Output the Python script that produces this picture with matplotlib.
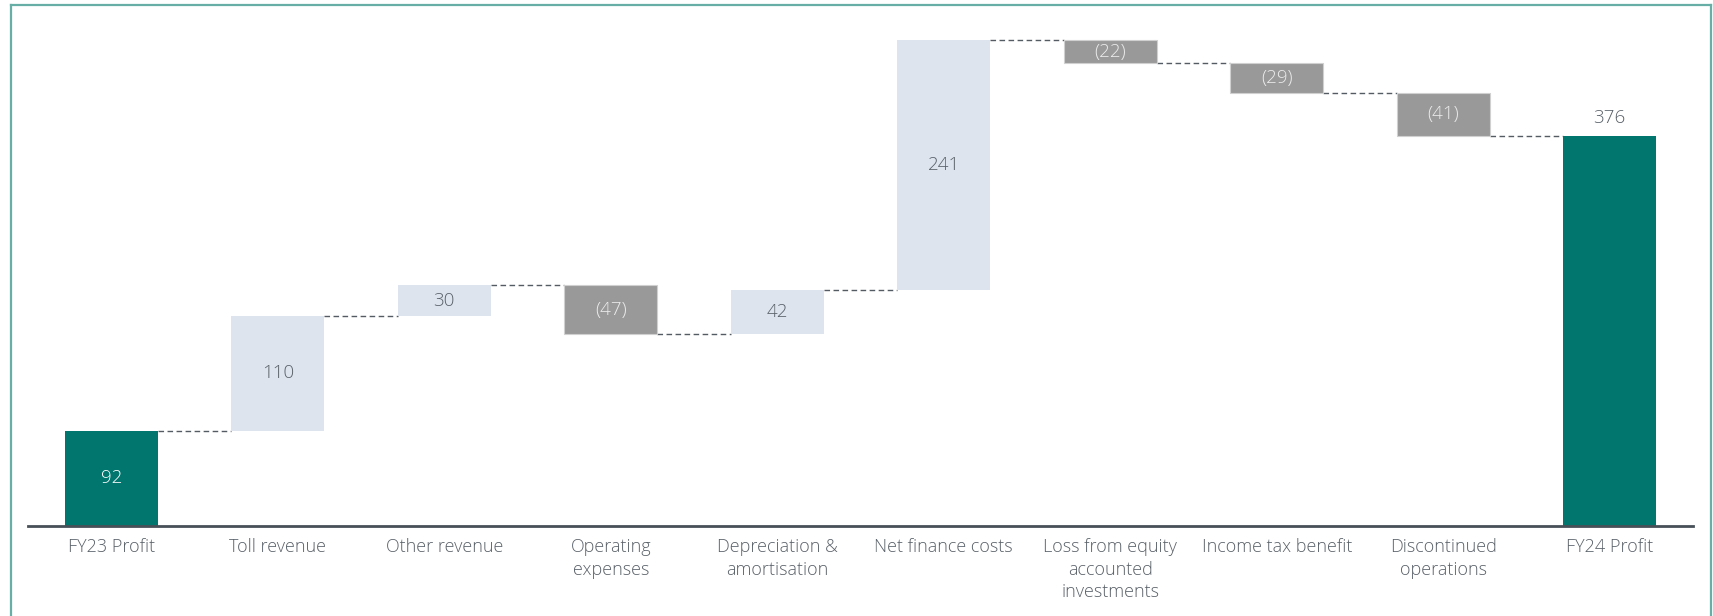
import matplotlib
matplotlib.use("Agg")
import matplotlib.pyplot as plt
from matplotlib.lines import Line2D
import numpy as np

categories = ["FY23 Profit", "Toll revenue", "Other revenue", "Operating\nexpenses",
              "Depreciation &\namortisation", "Net finance costs",
              "Loss from equity\naccounted\ninvestments", "Income tax benefit",
              "Discontinued\noperations", "FY24 Profit"]
changes = [92, 110, 30, -47, 42, 241, -22, -29, -41]
total = 376

TEAL = "#00766e"
LIGHT = "#dde4ee"
GREY = "#999999"
TEXT = "#5a6169"

plt.rcParams["font.family"] = ["Open Sans", "DejaVu Sans"]
plt.rcParams["font.weight"] = "light"

fig = plt.figure(figsize=(17.13, 6.16), dpi=100)
W, H = 1713, 616
ax = fig.add_axes([28 / W, 90 / H, 1665 / W, 520 / H])

x = np.arange(len(categories))
width = 0.557

# running totals
ends = np.cumsum(changes)
starts = np.concatenate([[0], ends[:-1]])

for i, (s, c) in enumerate(zip(starts, changes)):
    if i == 0:
        ax.bar(x[i], c, width, color=TEAL, zorder=2)
        ax.text(x[i], c / 2, str(c), ha="center", va="center", color="white", fontsize=13.5)
        continue
    lo, hi = min(s, s + c), max(s, s + c)
    if c >= 0:
        ax.bar(x[i], hi - lo, width, bottom=lo, color=LIGHT, zorder=2)
        ax.text(x[i], (lo + hi) / 2, str(c), ha="center", va="center", color=TEXT, fontsize=13.5)
    else:
        ax.bar(x[i], hi - lo, width, bottom=lo, color=GREY, edgecolor="#d0d0d0",
               linewidth=0.8, zorder=2)
        ax.text(x[i], (lo + hi) / 2, "(%d)" % abs(c), ha="center", va="center",
                color="#ececec", fontsize=13.5)

ax.bar(x[-1], total, width, color=TEAL, zorder=2)
ax.text(x[-1], total + 8, str(total), ha="center", va="bottom", color=TEXT, fontsize=13.5)

# dashed connectors
for i, lvl in enumerate(ends):
    ax.plot([x[i] + width / 2, x[i + 1] - width / 2], [lvl, lvl], color="#555b63",
            linestyle=(0, (4, 2.5)), linewidth=1, zorder=1)

ax.set_xlim(-0.5, 9.5)
ax.set_ylim(0, 501)
ax.set_xticks(x)
ax.set_xticklabels(categories, fontsize=13, color=TEXT, linespacing=1.3)
ax.tick_params(axis="x", length=0, pad=9)
ax.set_yticks([])
for side in ["top", "right", "left"]:
    ax.spines[side].set_visible(False)
ax.spines["bottom"].set_color("#474f57")
ax.spines["bottom"].set_linewidth(2)

# outer frame
frame_col = "#66aea6"
fig.add_artist(Line2D([11 / W, 11 / W], [0, 1 - 4.5 / H], color=frame_col, linewidth=1.6))
fig.add_artist(Line2D([1711 / W, 1711 / W], [0, 1 - 4.5 / H], color=frame_col, linewidth=1.6))
fig.add_artist(Line2D([11 / W, 1711 / W], [1 - 4.5 / H, 1 - 4.5 / H], color=frame_col, linewidth=1.6))

fig.savefig("out.png", dpi=100)
